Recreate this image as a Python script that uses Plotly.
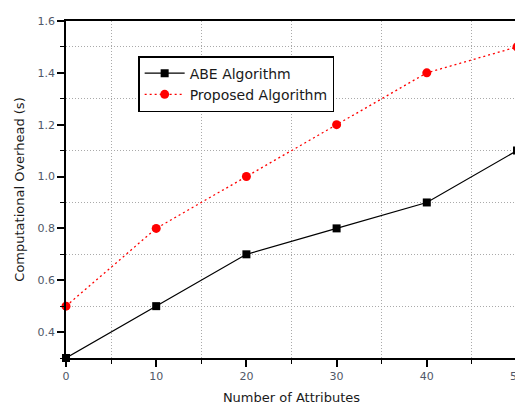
import plotly.graph_objects as go

x_attrs = [0, 10, 20, 30, 40, 50]
abe = [0.3, 0.5, 0.7, 0.8, 0.9, 1.1]
proposed = [0.5, 0.8, 1.0, 1.2, 1.4, 1.5]

font_family = "DejaVu Sans, Verdana, sans-serif"
tick_color = "#505868"

fig = go.Figure()
fig.add_trace(go.Scatter(x=x_attrs, y=abe, mode="lines+markers", name="ABE Algorithm",
                         line=dict(color="black", width=1.2),
                         marker=dict(symbol="square", size=8, color="black"), cliponaxis=False))
fig.add_trace(go.Scatter(x=x_attrs, y=proposed, mode="lines+markers", name="Proposed Algorithm",
                         line=dict(color="red", width=1.3, dash="2px,3px"),
                         marker=dict(symbol="circle", size=9, color="red"), cliponaxis=False))

grid_minor = dict(ticks="outside", ticklen=4, tickwidth=1.2, tickcolor="black",
                  showgrid=True, gridcolor="#aaaaaa", griddash="1px,2px", gridwidth=1)

axis_common = dict(showline=True, linecolor="black", linewidth=1.6, mirror=True,
                   ticks="outside", ticklen=7, tickwidth=1.5, tickcolor="black",
                   showgrid=False, zeroline=False, automargin=False,
                   tickfont=dict(family=font_family, size=11, color=tick_color),
                   title_font=dict(family=font_family, size=13, color="#1a1a1a"))

fig.update_xaxes(range=[0, 50], dtick=10, tick0=0,
                 minor=dict(dtick=5, tick0=0, **grid_minor),
                 title_text="Number of Attributes", title_standoff=12, **axis_common)
fig.update_yaxes(range=[0.3, 1.6], dtick=0.2, tick0=0.4, tickformat=".1f",
                 minor=dict(dtick=0.1, tick0=0.3, **grid_minor),
                 title_text="Computational Overhead (s)", title_standoff=10, **axis_common)

mirror_common = dict(showline=False, showgrid=False, zeroline=False, showticklabels=False,
                     ticks="inside", ticklen=7, tickwidth=1.5, tickcolor="black")
fig.update_layout(
    xaxis2=dict(overlaying="x", side="top", range=[0, 50], dtick=10, tick0=0,
                minor=dict(dtick=5, tick0=0, ticks="inside", ticklen=4, tickwidth=1.2, tickcolor="black"),
                **mirror_common),
    yaxis2=dict(overlaying="y", side="right", range=[0.3, 1.6], dtick=0.2, tick0=0.4,
                minor=dict(dtick=0.1, tick0=0.3, ticks="inside", ticklen=4, tickwidth=1.2, tickcolor="black"),
                **mirror_common),
)

fig.update_layout(width=530, height=405, autosize=False,
                  margin=dict(l=66, r=13, t=21, b=47),
                  paper_bgcolor="white", plot_bgcolor="white",
                  font=dict(family=font_family, size=13, color="#1a1a1a"),
                  legend=dict(x=0.16, y=0.896, xanchor="left", yanchor="top",
                              bgcolor="white", bordercolor="black", borderwidth=1.5,
                              font=dict(family=font_family, size=14, color="#1a1a1a"),
                              tracegroupgap=0, itemwidth=40))

fig.write_html("out.html")
